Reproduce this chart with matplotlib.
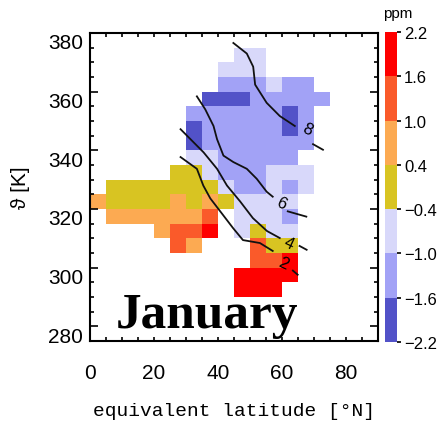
import numpy as np
import matplotlib
matplotlib.use("Agg")
import matplotlib.pyplot as plt
from matplotlib.colors import ListedColormap, BoundaryNorm
from matplotlib.ticker import MultipleLocator
from matplotlib.transforms import ScaledTranslation

# grid of 5 deg x 5 K cells
lat_edges = np.arange(0, 80, 5)        # 0 .. 75 N
theta_edges = np.arange(290, 380, 5)   # 290 .. 375 K

# class of each cell, top row = 370-375 K, first column = 0-5 N
rows = [
    ".........LL....",   # 370-375
    "........LLL....",   # 365-370
    "........MMMLMM.",   # 360-365
    ".......DDDMMMMM",   # 355-360
    "......MMMMMMDM.",   # 350-355
    "......DMMMMMDM.",   # 345-350
    "......DMMMMMMM.",   # 340-345
    "......LLMMMMM..",   # 335-340
    ".....YYLMMMLLL.",   # 330-335
    ".YYYYYYYLMMLML.",   # 325-330
    "OYYYYOYOYLLLL..",   # 320-325
    ".OOOOOOR.LLLM..",   # 315-320
    "....ORRX.LYLL..",   # 310-315
    ".....RO...RYY..",   # 305-310
    "..........RRX..",   # 300-305
    ".........XXXX..",   # 295-300
    ".........XXX...",   # 290-295
]
class_ppm = {"D": -1.9, "M": -1.3, "L": -0.7, "Y": 0.0,
             "O": 0.7, "R": 1.3, "X": 1.9}

levels = [-2.2, -1.6, -1.0, -0.4, 0.4, 1.0, 1.6, 2.2]
level_labels = ["\u22122.2", "\u22121.6", "\u22121.0", "\u22120.4",
                "0.4", "1.0", "1.6", "2.2"]
colors = ["#5252c8", "#a2a2f6", "#d8d8fa", "#d8c422",
          "#fcaa52", "#fa5a2a", "#fe0000"]

# contour lines (lat, theta) traced along each isoline, plus the short piece after its label
c2_lat = [28.3, 33.4, 35.4, 37.6, 40.7, 44.7, 47.8, 53.1, 57.1]
c2_th = [337.7, 333.7, 328.0, 323.6, 319.2, 313.5, 309.4, 308.4, 305.7]
c2_tail_lat, c2_tail_th = [63.4, 64.9], [299.0, 297.6]

c4_lat = [28.3, 31.4, 35.5, 39.7, 42.8, 46.9, 50.9, 55.3, 59.3]
c4_th = [347.2, 343.8, 339.3, 333.7, 328.0, 322.6, 316.9, 312.5, 310.1]
c4_tail_lat, c4_tail_th = [65.5, 67.7], [307.4, 306.1]

c6_lat = [33.4, 36.0, 38.6, 39.7, 41.7, 44.8, 49.0, 52.1, 55.2, 57.1]
c6_th = [358.4, 354.0, 348.3, 343.8, 338.2, 336.0, 333.7, 330.3, 325.9, 324.2]
c6_tail_lat, c6_tail_th = [61.8, 67.6], [319.2, 317.4]

c8_lat = [44.8, 49.0, 51.0, 51.6, 55.2, 59.3, 64.0]
c8_th = [376.6, 373.0, 368.5, 362.4, 356.2, 351.7, 348.3]
c8_tail_lat, c8_tail_th = [69.7, 72.8], [342.1, 340.2]

label_pos = {"2": (60.4, 301.5), "4": (62.0, 308.6), "6": (59.6, 322.0), "8": (68.0, 347.2)}

vals = np.full((len(rows), len(lat_edges) - 1), np.nan)
for i, r in enumerate(rows):
    for j, ch in enumerate(r):
        if ch in class_ppm:
            vals[i, j] = class_ppm[ch]
vals = np.ma.masked_invalid(vals[::-1])

cmap = ListedColormap(colors)
norm = BoundaryNorm(levels, cmap.N)

fig = plt.figure(figsize=(4.38, 4.27), dpi=100)
ax = fig.add_axes([90 / 438, 1 - 342 / 427, 288 / 438, 308 / 427])
ax.pcolormesh(lat_edges, theta_edges, vals, cmap=cmap, norm=norm)

for la, th, tla, tth in [(c2_lat, c2_th, c2_tail_lat, c2_tail_th),
                         (c4_lat, c4_th, c4_tail_lat, c4_tail_th),
                         (c6_lat, c6_th, c6_tail_lat, c6_tail_th),
                         (c8_lat, c8_th, c8_tail_lat, c8_tail_th)]:
    ax.plot(la, th, color="#111111", lw=1.3)
    ax.plot(tla, tth, color="#111111", lw=1.3)
for txt, (x, y) in label_pos.items():
    ax.text(x, y, txt, fontsize=12, ha="center", va="center", rotation=-25,
            family="Liberation Sans")

ax.set_xlim(0, 90)
ax.set_ylim(275, 380)
ax.set_xticks([0, 20, 40, 60, 80])
ax.xaxis.set_minor_locator(MultipleLocator(5))
ax.set_yticks(np.arange(280, 381, 20))
ax.yaxis.set_minor_locator(MultipleLocator(5))
ax.tick_params(which="both", direction="in", top=True, right=True, width=1.2)
ax.tick_params(axis="x", which="both", length=3, pad=16, labelsize=15)
ax.tick_params(axis="y", which="major", length=6, pad=5, labelsize=15)
ax.tick_params(axis="y", which="minor", length=3)
for lab in ax.get_xticklabels() + ax.get_yticklabels():
    lab.set_family("Liberation Sans")
for lab in ax.get_yticklabels():
    lab.set_transform(lab.get_transform() + ScaledTranslation(0, -0.08, fig.dpi_scale_trans))
for sp in ax.spines.values():
    sp.set_linewidth(1.5)

ax.set_xlabel("equivalent latitude [\u00b0N]", family="Liberation Mono", fontsize=14, labelpad=14)
fig.text(21 / 438, 1 - 188 / 427, "\u03d1 [K]", rotation=90, ha="center", va="center",
         fontsize=15, family=["Liberation Sans", "DejaVu Sans"])

fig.text(116 / 438, 1 - 328 / 427, "January", family="Liberation Serif", weight="bold",
         fontsize=37, va="baseline", ha="left")

cax = fig.add_axes([385 / 438, 1 - 343 / 427, 12 / 438, 310 / 427])
cb = fig.colorbar(plt.cm.ScalarMappable(norm=norm, cmap=cmap), cax=cax, ticks=levels)
cb.set_ticklabels(level_labels)
cb.outline.set_visible(False)
cax.tick_params(length=3, width=1.2, labelsize=12, pad=2)
for lab in cax.get_yticklabels():
    lab.set_family("Liberation Sans")
fig.text(398 / 438, 1 - 14 / 427, "ppm", ha="center", va="center", fontsize=11,
         family="Liberation Sans")

fig.savefig("out.png", dpi=100)
